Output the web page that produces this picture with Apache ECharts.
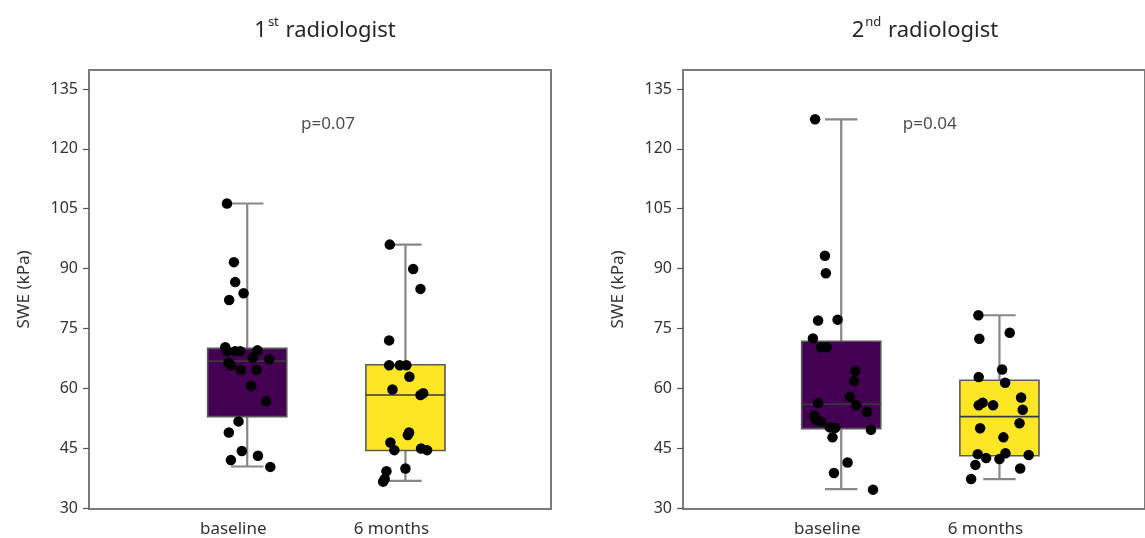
<!DOCTYPE html>
<html><head><meta charset="utf-8">
<script src="https://cdn.jsdelivr.net/npm/echarts@6/dist/echarts.min.js"></script>
<style>html,body{margin:0;padding:0;background:#fff}#c{width:1145px;height:538px}</style>
</head><body><div id="c"></div>
<script>
// ---------- data ----------
const categories = ['baseline', '6 months'];
const yTicks = [30, 45, 60, 75, 90, 105, 120, 135];
const yAxisName = 'SWE (kPa)';
const panelTitles = [['1', 'st', ' radiologist'], ['2', 'nd', ' radiologist']];
const pLabels = ['p=0.07', 'p=0.04'];
const pPositions = [[1.51, 126.3], [1.56, 126.3]]; // [x (category units), y (kPa)]

// box statistics: [min, Q1, median, Q3, max]
const r1Baseline = [40.4, 52.9, 66.8, 70.0, 106.3];
const r1Month6   = [36.8, 44.4, 58.3, 65.9, 96.0];
const r2Baseline = [34.75, 49.9, 56.0, 71.8, 127.4];
const r2Month6   = [37.25, 43.1, 52.9, 62.0, 78.3];

// individual points (kPa) and their horizontal jitter (category units)
const r1BaselinePts = [106.3, 91.6, 86.6, 83.8, 82.1, 70.3, 69.3, 69.3, 69.3, 69.5, 67.7, 67.25, 66.4, 65.75, 64.6, 64.6, 60.6, 56.75, 51.7, 48.9, 44.3, 42.0, 43.1, 40.3];
const r1BaselineJit = [-0.128, -0.084, -0.076, -0.023, -0.114, -0.139, -0.128, -0.076, -0.044, 0.065, 0.036, 0.139, -0.118, -0.103, -0.040, 0.059, 0.025, 0.120, -0.055, -0.116, -0.034, -0.103, 0.068, 0.146];
const r1Month6Pts = [96.0, 89.9, 84.9, 72.0, 65.75, 65.75, 65.75, 62.9, 59.7, 58.3, 58.75, 48.9, 48.3, 46.4, 44.5, 44.9, 44.5, 39.9, 39.2, 37.25, 36.6];
const r1Month6Jit = [-0.099, 0.049, 0.095, -0.103, -0.103, -0.036, 0.006, 0.025, -0.082, 0.095, 0.112, 0.023, 0.015, -0.095, -0.070, 0.099, 0.137, 0.0, -0.120, -0.131, -0.141];
const r2BaselinePts = [127.4, 93.2, 88.8, 77.0, 77.2, 72.5, 70.25, 70.25, 64.3, 61.8, 57.8, 56.25, 55.75, 54.1, 53.1, 52.1, 51.6, 50.2, 50.1, 49.6, 47.7, 41.4, 38.75, 34.6];
const r2BaselineJit = [-0.165, -0.103, -0.097, -0.146, -0.023, -0.179, -0.128, -0.091, 0.089, 0.082, 0.055, -0.146, 0.095, 0.163, -0.171, -0.160, -0.128, -0.072, -0.038, 0.188, -0.055, 0.040, -0.046, 0.201];
const r2Month6Pts = [78.3, 73.9, 72.4, 64.7, 62.8, 61.4, 57.7, 56.4, 55.75, 55.75, 54.6, 51.25, 50.0, 47.7, 43.5, 42.5, 42.25, 43.7, 43.3, 40.8, 39.9, 37.25];
const r2Month6Jit = [-0.133, 0.065, -0.127, 0.017, -0.131, 0.036, 0.137, -0.106, -0.131, -0.040, 0.147, 0.127, -0.122, 0.025, -0.137, -0.084, 0.0, 0.038, 0.185, -0.152, 0.131, -0.179];

const boxColors = ['#440154', '#FDE725'];

// ---------- chart ----------
const FONT = 'Noto Sans';
const chart = echarts.init(document.getElementById('c'), null, {renderer: 'canvas'});

const panels = [
  {stats: [r1Baseline, r1Month6], pts: [[r1BaselinePts, r1BaselineJit], [r1Month6Pts, r1Month6Jit]]},
  {stats: [r2Baseline, r2Month6], pts: [[r2BaselinePts, r2BaselineJit], [r2Month6Pts, r2Month6Jit]]}
];

function renderBox(params, api) {
  const x = api.value(0);
  const pMin = api.coord([x, api.value(1)]);
  const pQ1 = api.coord([x, api.value(2)]);
  const pMed = api.coord([x, api.value(3)]);
  const pQ3 = api.coord([x, api.value(4)]);
  const pMax = api.coord([x, api.value(5)]);
  const bw = api.size([0.5, 0])[0];
  const cw = api.size([0.205, 0])[0];
  const cx = pMed[0];
  const wStyle = {stroke: '#878787', lineWidth: 2.2};
  return {type: 'group', children: [
    {type: 'line', shape: {x1: cx, y1: pMax[1], x2: cx, y2: pMin[1]}, style: wStyle},
    {type: 'line', shape: {x1: cx - cw / 2, y1: pMax[1], x2: cx + cw / 2, y2: pMax[1]}, style: wStyle},
    {type: 'line', shape: {x1: cx - cw / 2, y1: pMin[1], x2: cx + cw / 2, y2: pMin[1]}, style: wStyle},
    {type: 'rect', shape: {x: cx - bw / 2, y: pQ3[1], width: bw, height: pQ1[1] - pQ3[1]},
      style: {fill: boxColors[params.dataIndex], stroke: '#5a5a5a', lineWidth: 1.6}},
    {type: 'line', shape: {x1: cx - bw / 2, y1: pMed[1], x2: cx + bw / 2, y2: pMed[1]},
      style: {stroke: '#3a3a3a', lineWidth: 1.6}}
  ]};
}

const grids = [
  {left: 89, right: 594, top: 70, bottom: 28},
  {left: 683, right: -3, top: 70, bottom: 28}
];

const option = {
  backgroundColor: '#ffffff',
  animation: false,
  textStyle: {fontFamily: FONT},
  title: panelTitles.map((t, i) => ({
    text: '{n|' + t[0] + '}{s|' + t[1] + '}{n|' + t[2] + '}',
    left: i === 0 ? 320 : 920,
    top: 11,
    textAlign: 'center',
    textStyle: {
      fontWeight: 'normal',
      rich: {
        n: {fontFamily: FONT, fontSize: 22, fontWeight: 'normal', color: '#262626', lineHeight: 30},
        s: {fontFamily: FONT, fontSize: 13, fontWeight: 'normal', color: '#262626', verticalAlign: 'top', lineHeight: 18, padding: [0, 1, 0, 1]}
      }
    }
  })),
  grid: grids.map(g => Object.assign({show: true, borderColor: '#7a7a7a', borderWidth: 2, backgroundColor: 'transparent'}, g)),
  xAxis: grids.map((g, i) => ({
    type: 'value', gridIndex: i, min: 0, max: 2.92,
    axisLine: {show: true, lineStyle: {color: '#7a7a7a', width: 2}},
    axisTick: {show: false},
    splitLine: {show: false},
    axisLabel: {
      customValues: [1, 2],
      formatter: v => categories[Math.round(v) - 1] || '',
      fontFamily: FONT, fontSize: 17, color: '#333', margin: 12,
      padding: [0, 28, 0, 0]
    }
  })),
  yAxis: grids.map((g, i) => ({
    type: 'value', gridIndex: i, min: 29.75, max: 139.75,
    name: yAxisName, nameLocation: 'middle', nameRotate: 90, nameGap: 56,
    nameTextStyle: {fontFamily: FONT, fontSize: 17, color: '#333'},
    axisLine: {show: true, lineStyle: {color: '#7a7a7a', width: 2}},
    axisTick: {show: true, customValues: yTicks, length: 6, lineStyle: {color: '#555', width: 1.2}},
    splitLine: {show: false},
    axisLabel: {customValues: yTicks, fontFamily: FONT, fontSize: 16, color: '#333', margin: 11}
  })),
  series: []
};

panels.forEach((p, i) => {
  option.series.push({
    type: 'custom', xAxisIndex: i, yAxisIndex: i, z: 2,
    renderItem: renderBox,
    encode: {x: 0, y: [1, 2, 3, 4, 5]},
    data: p.stats.map((s, k) => [k + 1].concat(s))
  });
  const pts = [];
  p.pts.forEach((pair, k) => {
    pair[0].forEach((v, j) => pts.push([k + 1 + pair[1][j], v]));
  });
  option.series.push({
    type: 'scatter', xAxisIndex: i, yAxisIndex: i, z: 5,
    symbol: 'circle', symbolSize: 10.5,
    itemStyle: {color: '#000', opacity: 1},
    data: pts
  });
  option.series.push({
    type: 'scatter', xAxisIndex: i, yAxisIndex: i, z: 6,
    symbolSize: 0, silent: true,
    label: {show: true, position: 'inside', formatter: () => pLabels[i],
      fontFamily: FONT, fontSize: 17, color: '#222'},
    data: [pPositions[i]]
  });
});

chart.setOption(option);
</script>
</body></html>
